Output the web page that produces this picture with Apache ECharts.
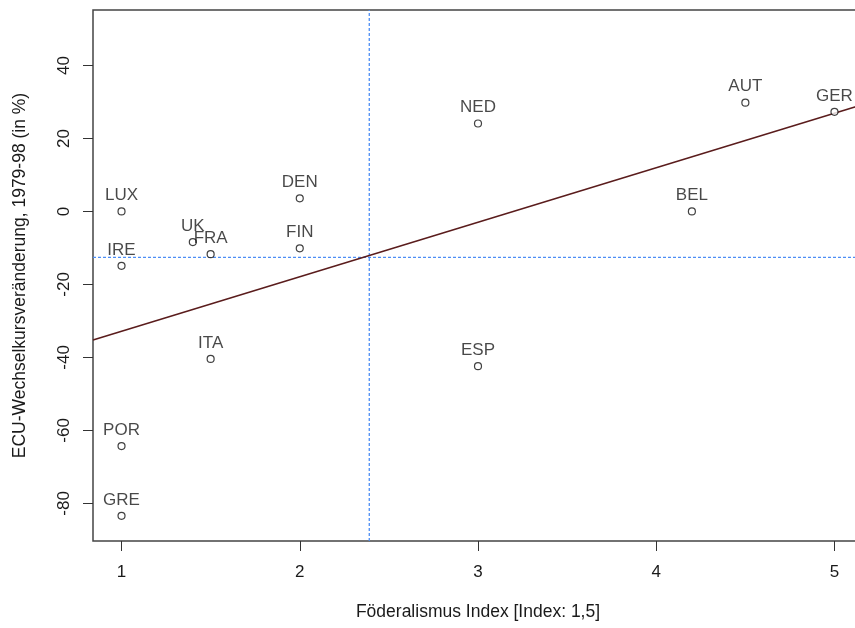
<!DOCTYPE html>
<html>
<head>
<meta charset="utf-8">
<script src="https://cdn.jsdelivr.net/npm/echarts@6/dist/echarts.min.js"></script>
<style>
html,body{margin:0;padding:0;background:#fff;overflow:hidden;width:855px;height:628px;}
#chart{width:880px;height:628px;}
</style>
</head>
<body>
<div id="chart"></div>
<script>
const countries = ['LUX','IRE','UK','FRA','DEN','FIN','ITA','POR','GRE','NED','ESP','AUT','GER','BEL'];
const federalism = [1, 1, 1.4, 1.5, 2, 2, 1.5, 1, 1, 3, 3, 4.5, 5, 4.2];
const ecuChange = [0, -14.9, -8.4, -11.7, 3.6, -10.1, -40.4, -64.3, -83.4, 24.1, -42.4, 29.8, 27.3, 0];
const xTicks = [1, 2, 3, 4, 5];
const yTicks = [-80, -60, -40, -20, 0, 20, 40];
const xRange = [0.84, 5.16];
const yRange = [-90.3, 55.2];
const fitLine = [[0.84, -35.2], [5.16, 29.3]];
const meanX = 2.39;
const meanY = -12.6;

const FONT = '"Liberation Sans", Arial, sans-serif';
const BLUE = '#4d8ef5';
const chart = echarts.init(document.getElementById('chart'), null, {renderer: 'canvas'});
const points = countries.map((c, i) => ({name: c, value: [federalism[i], ecuChange[i]]}));
const meanStyle = {color: BLUE, type: [3, 2], width: 1.3};

chart.setOption({
  animation: false,
  backgroundColor: '#fff',
  grid: {left: 93, top: 10, width: 770, height: 531, show: true, borderColor: '#444', borderWidth: 1.5, backgroundColor: 'transparent'},
  xAxis: {
    type: 'value', min: xRange[0], max: xRange[1],
    name: 'Föderalismus Index [Index: 1,5]', nameLocation: 'middle', nameGap: 62,
    nameTextStyle: {fontFamily: FONT, fontSize: 17.5, color: '#1a1a1a'},
    axisLine: {show: false, onZero: false},
    axisTick: {show: true, length: 10, inside: false, customValues: xTicks, lineStyle: {color: '#333', width: 1}},
    axisLabel: {customValues: xTicks, margin: 23, fontFamily: FONT, fontSize: 17, color: '#1a1a1a'},
    splitLine: {show: false}
  },
  yAxis: {
    type: 'value', min: yRange[0], max: yRange[1],
    name: 'ECU-Wechselkursveränderung, 1979-98 (in %)', nameLocation: 'middle', nameGap: 64,
    nameTextStyle: {fontFamily: FONT, fontSize: 17.5, color: '#1a1a1a'},
    axisLine: {show: false, onZero: false},
    axisTick: {show: true, length: 10, customValues: yTicks, lineStyle: {color: '#333', width: 1}},
    axisLabel: {customValues: yTicks, rotate: 90, margin: 20, fontFamily: FONT, fontSize: 17, color: '#1a1a1a'},
    splitLine: {show: false}
  },
  series: [
    {
      type: 'line',
      data: [[meanX, yRange[0]], [meanX, yRange[1]]],
      symbol: 'none',
      color: BLUE,
      lineStyle: meanStyle,
      z: 2
    },
    {
      type: 'line',
      data: [[xRange[0], meanY], [xRange[1], meanY]],
      symbol: 'none',
      color: BLUE,
      lineStyle: meanStyle,
      z: 2
    },
    {
      type: 'line',
      data: fitLine,
      symbol: 'none',
      lineStyle: {color: '#5a1c1c', width: 1.5},
      z: 3
    },
    {
      type: 'scatter',
      data: points,
      symbol: 'circle',
      symbolSize: 7,
      itemStyle: {color: '#fff', borderColor: '#111', borderWidth: 1.2},
      z: 4,
      label: {
        show: true,
        position: 'inside',
        offset: [0, -16],
        formatter: p => p.name,
        fontFamily: FONT, fontSize: 17, color: '#1a1a1a'
      }
    }
  ]
});
</script>
</body>
</html>
